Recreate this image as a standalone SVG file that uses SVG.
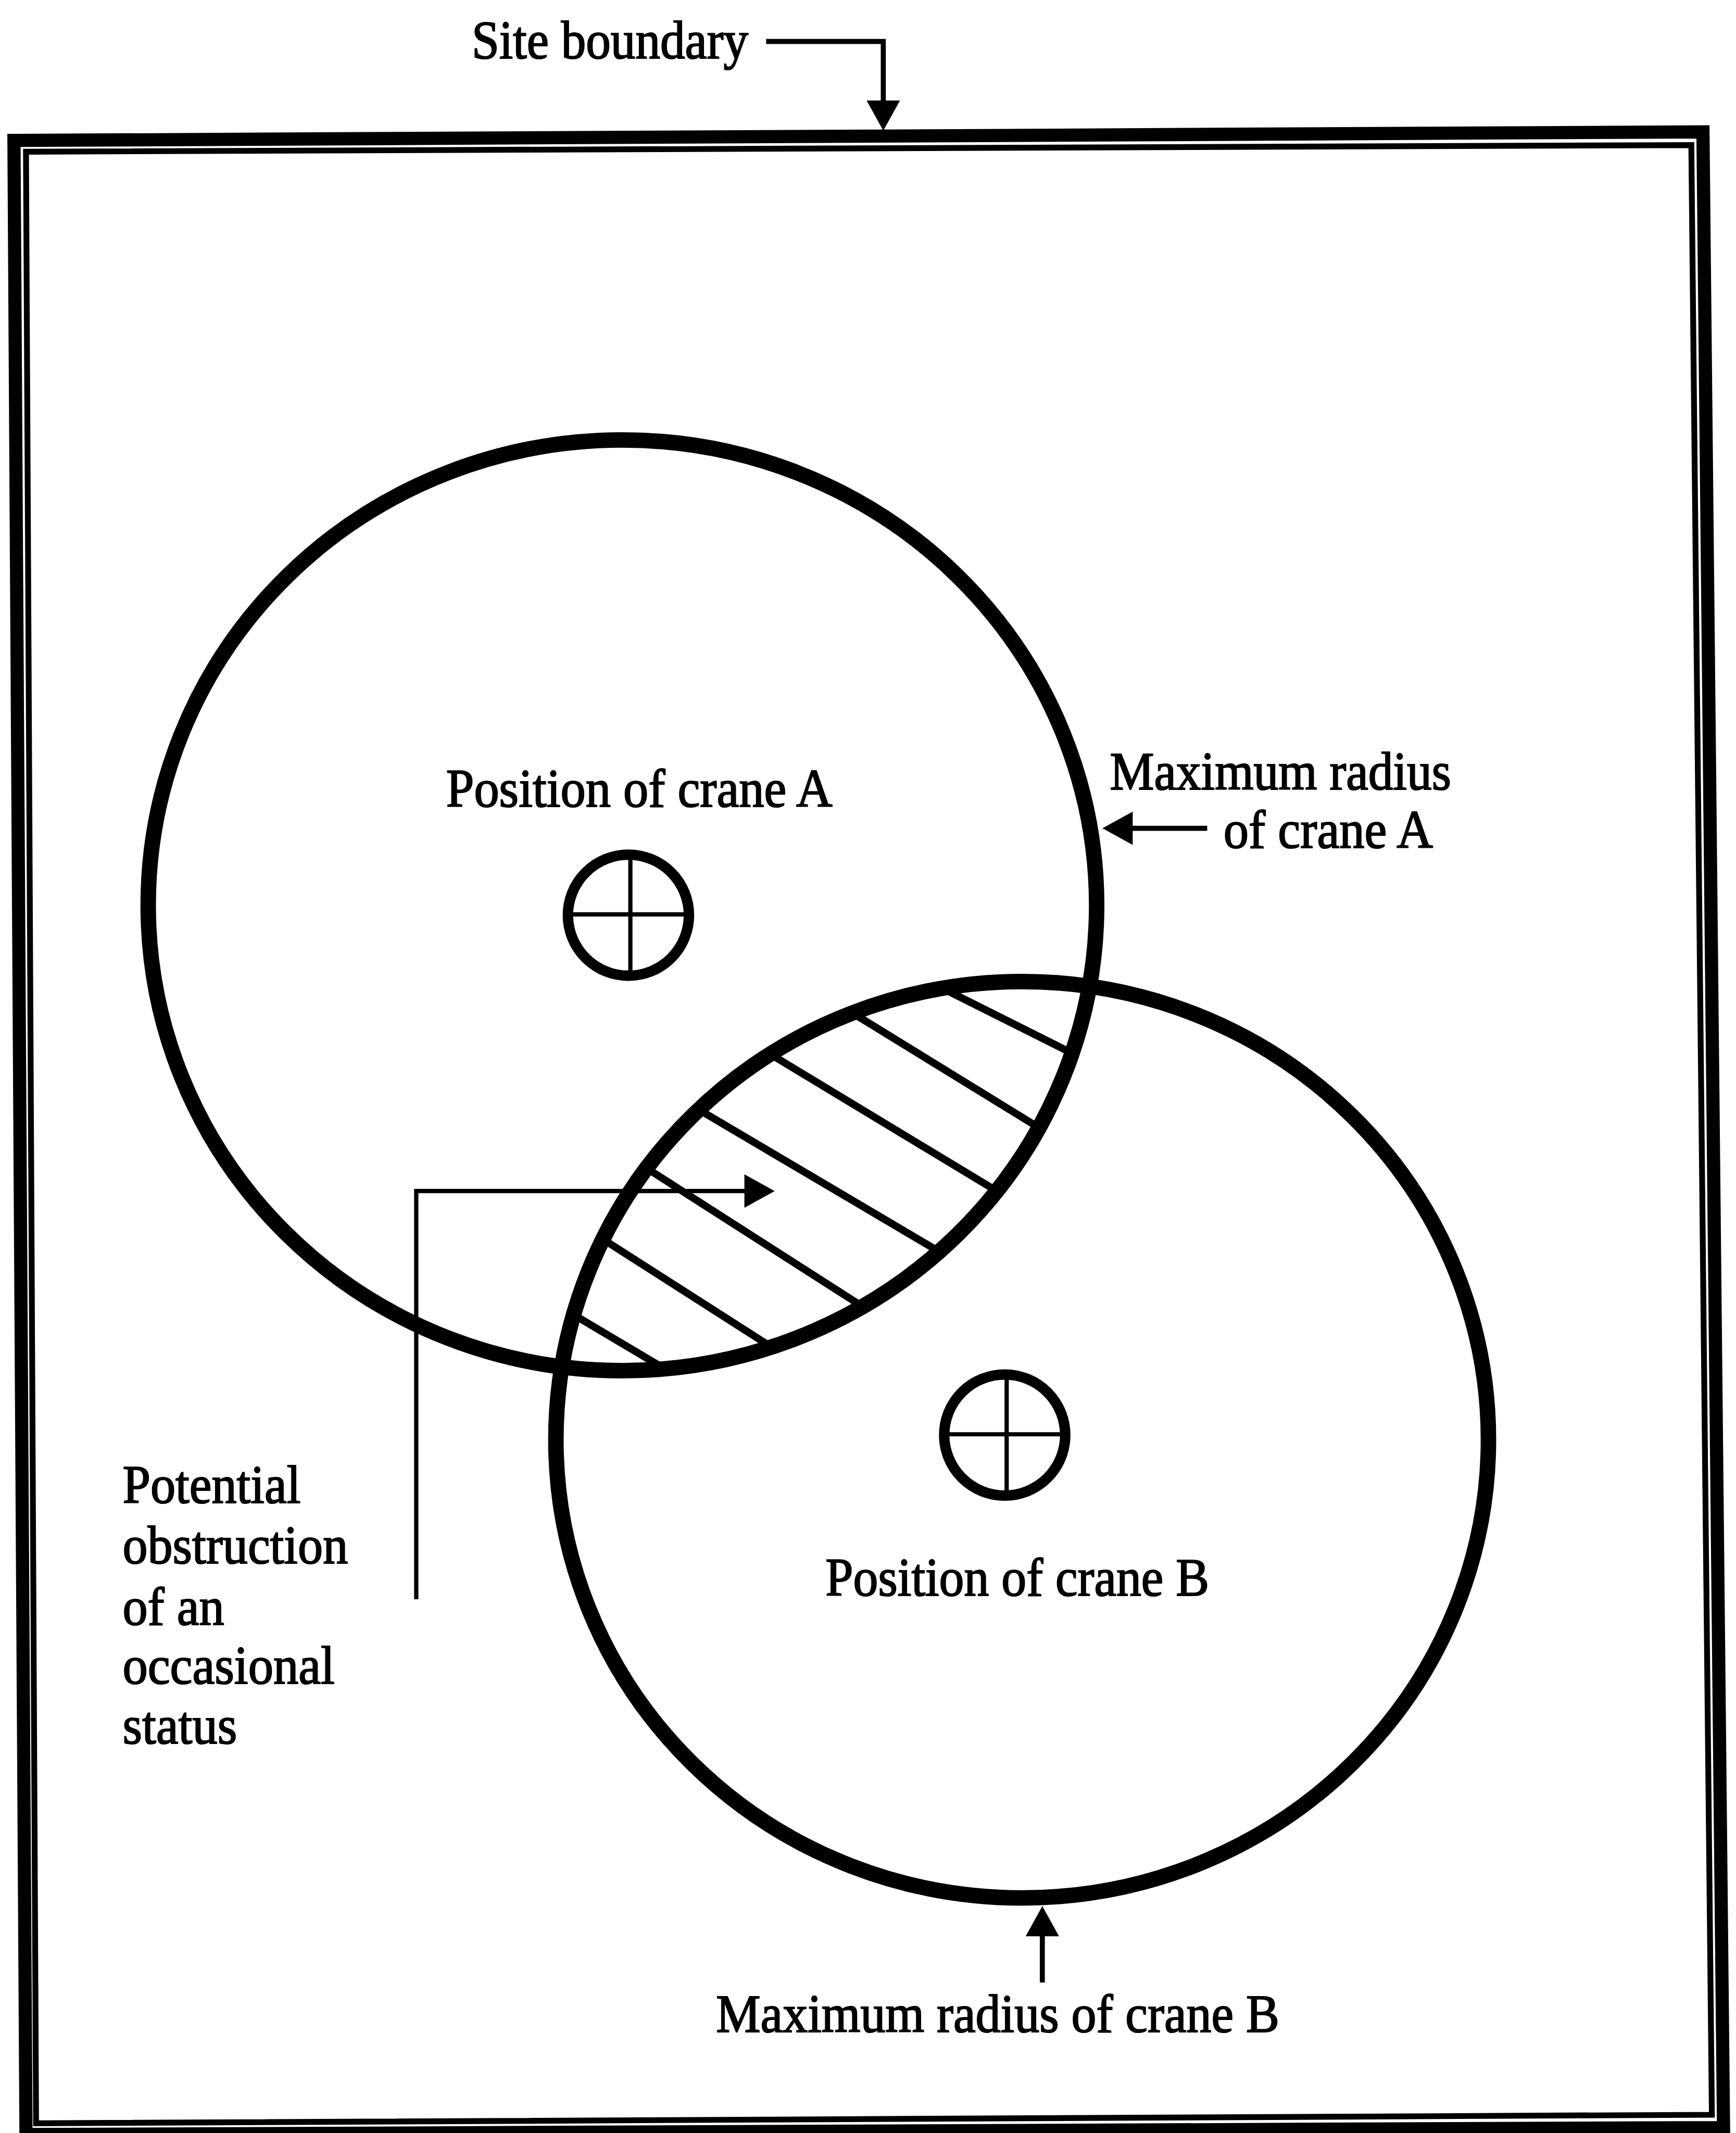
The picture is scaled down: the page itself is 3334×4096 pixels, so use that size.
<svg xmlns="http://www.w3.org/2000/svg" width="3334" height="4096" viewBox="0 0 3334 4096">
  <defs>
    <style>
      .band { fill: none; stroke: #000; stroke-width: 34; stroke-linejoin: miter; }
      .inner { fill: none; stroke: #000; stroke-width: 15; stroke-linejoin: miter; }
      .reach { fill: none; stroke: #000; stroke-width: 40; }
      .ring { fill: none; stroke: #000; stroke-width: 27; }
      .cross { fill: none; stroke: #000; stroke-width: 11; }
      .hatch { fill: none; stroke: #000; stroke-width: 19; }
      .leader { fill: none; stroke: #000; stroke-width: 13; stroke-linejoin: miter; marker-end: url(#head); }
      .leader-thin { fill: none; stroke: #000; stroke-width: 11; stroke-linejoin: miter; marker-end: url(#head); }
      .lbl { font-family: "Liberation Serif", "Times New Roman", serif; font-size: 140px; fill: #000; stroke: #000; stroke-width: 3; }
    </style>
    <!-- filled triangular arrowhead, base placed at the path end -->
    <marker id="head" markerUnits="userSpaceOnUse" markerWidth="82" markerHeight="90" refX="1" refY="43" orient="auto" overflow="visible">
      <path d="M0,0 L78,43 L0,86 Z" fill="#000"/>
    </marker>
    <!-- reach of each crane, used to cut the overlap hatching -->
    <clipPath id="reachA">
      <ellipse cx="1604.5" cy="2333.5" rx="1222.5" ry="1199.5"/>
    </clipPath>
    <clipPath id="reachB">
      <ellipse cx="2635" cy="3711" rx="1202" ry="1181"/>
    </clipPath>
  </defs>

  <rect x="0" y="0" width="3334" height="4096" fill="#fff"/>

  <g transform="scale(0.745)">
    <!-- double site boundary line -->
    <g id="site-boundary">
      <path class="band" d="M36,362 L4390,340 L4443,5484 L67,5502 Z"/>
      <path class="inner" d="M67,391 L4360,374 L4413,5451 L93,5473 Z"/>
    </g>

    <!-- hatched zone where both cranes can swing -->
    <g id="overlap-zone" clip-path="url(#reachA)">
      <g clip-path="url(#reachB)">
        <line class="hatch" x1="2383" y1="2524" x2="2818" y2="2742"/>
        <line class="hatch" x1="2139" y1="2575" x2="2729" y2="2938"/>
        <line class="hatch" x1="1931" y1="2684" x2="2611" y2="3095"/>
        <line class="hatch" x1="1747" y1="2828" x2="2465" y2="3252"/>
        <line class="hatch" x1="1615" y1="2978" x2="2274" y2="3400"/>
        <line class="hatch" x1="1493" y1="3155" x2="2048" y2="3510"/>
        <line class="hatch" x1="1415" y1="3351" x2="1767" y2="3560"/>
      </g>
    </g>

    <!-- crane A: reach circle and mast position -->
    <g id="crane-a">
      <ellipse class="reach" cx="1604.5" cy="2333.5" rx="1222.5" ry="1199.5"/>
      <circle class="ring" cx="1620" cy="2359" r="156"/>
      <path class="cross" d="M1625,2203 V2515 M1464,2357 H1776"/>
      <text class="lbl" x="1150" y="2079" textLength="996" lengthAdjust="spacingAndGlyphs">Position of crane A</text>
    </g>

    <!-- crane B: reach circle and mast position -->
    <g id="crane-b">
      <ellipse class="reach" cx="2635" cy="3711" rx="1202" ry="1181"/>
      <circle class="ring" cx="2590" cy="3699" r="156"/>
      <path class="cross" d="M2595,3543 V3855 M2434,3697 H2746"/>
      <text class="lbl" x="2128" y="4113" textLength="989" lengthAdjust="spacingAndGlyphs">Position of crane B</text>
    </g>

    <!-- leader arrows -->
    <g id="connectors">
      <path class="leader" d="M1975,107 H2277 V260"/>
      <path class="leader" d="M3112,2135 H2919"/>
      <path class="leader" d="M2687,5110 V4990"/>
      <path class="leader-thin" d="M1073,4122 V3070 H1920"/>
    </g>

    <!-- callout texts -->
    <g id="labels">
      <text class="lbl" x="1216" y="150" textLength="713" lengthAdjust="spacingAndGlyphs">Site boundary</text>
      <text class="lbl" x="2861" y="2035" textLength="880" lengthAdjust="spacingAndGlyphs">Maximum radius</text>
      <text class="lbl" x="3154" y="2185" textLength="540" lengthAdjust="spacingAndGlyphs">of crane A</text>
      <text class="lbl" x="1846" y="5238" textLength="1452" lengthAdjust="spacingAndGlyphs">Maximum radius of crane B</text>
      <text class="lbl" x="316" y="3874" textLength="459" lengthAdjust="spacingAndGlyphs">Potential</text>
      <text class="lbl" x="316" y="4030" textLength="581" lengthAdjust="spacingAndGlyphs">obstruction</text>
      <text class="lbl" x="316" y="4188" textLength="262" lengthAdjust="spacingAndGlyphs">of an</text>
      <text class="lbl" x="316" y="4340" textLength="547" lengthAdjust="spacingAndGlyphs">occasional</text>
      <text class="lbl" x="316" y="4494" textLength="295" lengthAdjust="spacingAndGlyphs">status</text>
    </g>
  </g>
</svg>
